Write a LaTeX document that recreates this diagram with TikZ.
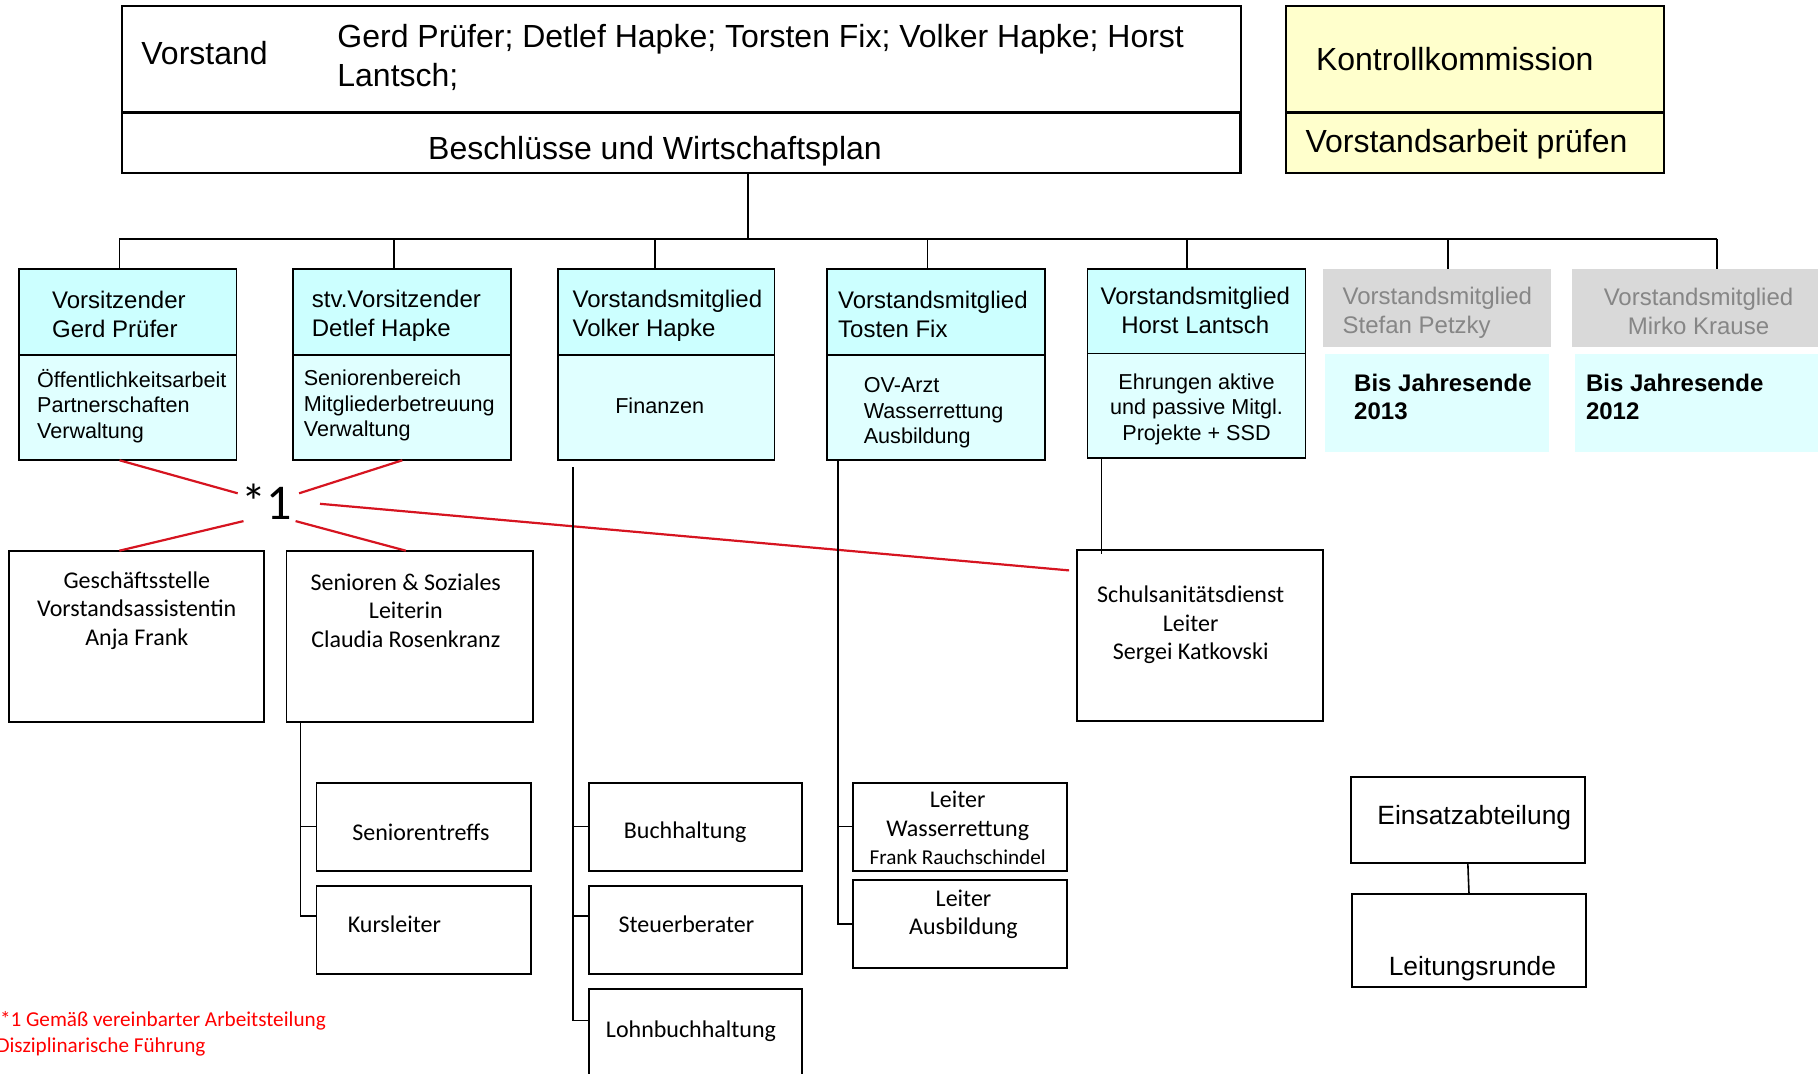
\documentclass[tikz,border=0pt]{standalone}
\usepackage{fontspec}
\setmainfont{Liberation Sans}
\newfontfamily\calibri{Carlito}
\usetikzlibrary{fit,calc}
\newcommand\grossA{\fontsize{16pt}{19.2pt}\selectfont}
\newcommand\kopfA{\fontsize{12pt}{14.5pt}\selectfont}
\newcommand\feldA{\fontsize{10.8pt}{12.75pt}\selectfont}
\newcommand\fettA{\fontsize{12pt}{13.9pt}\selectfont\bfseries}
\newcommand\einsA{\fontsize{13.2pt}{15pt}\selectfont}
\newcommand\calA{\calibri\fontsize{12pt}{14.2pt}\selectfont}
\newcommand\calklein{\calibri\fontsize{10.6pt}{12.4pt}\selectfont}
\tikzset{
  kasten/.style={draw, line width=0.9pt, inner sep=0, outer sep=0},
  kopfbox/.style={kasten, fill=kopfcol},
  feldbox/.style={kasten, fill=feldcol},
  graubox/.style={inner sep=0, outer sep=0, fill=graucol},
  hellbox/.style={inner sep=0, outer sep=0, fill=feldcol},
  txt/.style={inner sep=0, outer sep=0, align=left, anchor=west, yshift=-1.2pt},
  ztxt/.style={inner sep=0, outer sep=0, align=center, yshift=-1.2pt},
  linie/.style={line width=0.8pt},
  rotlinie/.style={line width=1.1pt, rotcol},
}
\begin{document}
\begin{tikzpicture}[x=0.5pt,y=-0.5pt]
\definecolor{kopfcol}{RGB}{204,255,255}
\definecolor{feldcol}{RGB}{224,255,255}
\definecolor{gelbcol}{RGB}{255,255,204}
\definecolor{graucol}{RGB}{217,217,217}
\definecolor{grautext}{RGB}{134,134,134}
\definecolor{rotcol}{RGB}{214,20,32}
\useasboundingbox (0,0) rectangle (1818,1074);
% Vorstand und Kontrollkommission
\node[kasten, line width=1pt, fit={(121.7,5.8) (1240.6,112.5)}] (vst) {};
\node[kasten, line width=1.2pt, fit={(121.7,112.5) (1240.6,172.8)}] (vstb) {};
\node[kasten, line width=1pt, fill=gelbcol, fit={(1285.8,5.8) (1663.7,112.5)}] (kk) {};
\node[kasten, line width=1.2pt, fill=gelbcol, fit={(1285.8,112.5) (1663.7,172.8)}] (kkb) {};
\node[txt, font=\grossA] (t-vst) at (141.4,51) {Vorstand};
\node[txt, font=\grossA] (t-namen) at (337.4,55) {Gerd Prüfer; Detlef Hapke; Torsten Fix; Volker Hapke; Horst\\Lantsch;};
\node[ztxt, font=\grossA] (t-besch) at (655,148.4) {Beschlüsse und Wirtschaftsplan};
\node[txt, font=\grossA] (t-kk) at (1316,56.8) {Kontrollkommission};
\node[txt, font=\grossA] (t-kkb) at (1305.5,141.4) {Vorstandsarbeit prüfen};
% Ressorts
\foreach \n/\l/\r in {vors/18.6/236.5, stv/293.3/511.3, vh/557.7/774.5, tf/826.7/1044.6} {
  \node[kopfbox, fit={(\l,269) (\r,354.8)}] (\n) {};
  \node[feldbox, fit={(\l,354.8) (\r,460.3)}] (\n-b) {};
}
\node[kopfbox, fit={(1087.5,269) (1305.5,353.6)}] (hl) {};
\node[feldbox, fit={(1087.5,353.6) (1305.5,458)}] (hl-b) {};
\node[graubox, fit={(1322.9,269) (1551.3,346.7)}] (sp) {};
\node[hellbox, fit={(1325.2,353.6) (1549,452.2)}] (sp-b) {};
\node[graubox, fit={(1572.1,269) (1818,346.7)}] (mk) {};
\node[hellbox, fit={(1574.5,353.6) (1818,452.2)}] (mk-b) {};
\node[txt, font=\kopfA] (t-vors) at (52.2,312.5) {Vorsitzender\\Gerd Prüfer};
\node[txt, font=\kopfA] (t-stv) at (311.9,313.5) {stv.Vorsitzender\\Detlef Hapke};
\node[txt, font=\kopfA] (t-vh) at (572.7,313.5) {Vorstandsmitglied\\Volker Hapke};
\node[txt, font=\kopfA] (t-tf) at (838.2,312.5) {Vorstandsmitglied\\Tosten Fix};
\node[ztxt, font=\kopfA] (t-hl) at (1195.3,307.8) {Vorstandsmitglied\\Horst Lantsch};
\node[txt, font=\kopfA, grautext] (t-sp) at (1342.6,310) {Vorstandsmitglied\\Stefan Petzky};
\node[ztxt, font=\kopfA, grautext] (t-mk) at (1698.5,309) {Vorstandsmitglied\\Mirko Krause};
\node[txt, font=\feldA] (t-vors-b) at (37.1,403.5) {Öffentlichkeitsarbeit\\Partnerschaften\\Verwaltung};
\node[txt, font=\feldA] (t-stv-b) at (303.8,403.5) {Seniorenbereich\\Mitgliederbetreuung\\Verwaltung};
\node[ztxt, font=\feldA] (t-vh-b) at (659.7,403.5) {Finanzen};
\node[txt, font=\feldA] (t-tf-b) at (863.8,410.5) {OV-Arzt\\Wasserrettung\\Ausbildung};
\node[ztxt, font=\feldA] (t-hl-b) at (1196.5,407) {Ehrungen aktive\\und passive Mitgl.\\Projekte + SSD};
\node[txt, font=\fettA] (t-sp-b) at (1354.2,394.2) {Bis Jahresende\\2013};
\node[txt, font=\fettA] (t-mk-b) at (1586,394.2) {Bis Jahresende\\2012};
% Verbindungen Vorstand
\coordinate (stamm) at (747.8,239);
\draw[linie] (vstb.south -| stamm) -- (stamm);
\coordinate (bus-l) at (119.4,239);
\coordinate (bus-r) at (1717.1,239);
\draw[linie] (bus-l) -- (bus-r);
\foreach \x/\b in {119.4/vors, 394.2/stv, 655.1/vh, 927.5/tf, 1187.2/hl, 1448.1/sp, 1717.1/mk} {
  \coordinate (ab-\b) at (\x,239);
  \draw[linie] (ab-\b) -- (ab-\b |- \b.north);
}
% Bereiche
\node[kasten, fit={(9.3,550.7) (264.3,722.3)}] (gst) {};
\node[kasten, fit={(286.4,550.7) (533.3,722.3)}] (sen) {};
\node[kasten, fit={(1077.1,549.6) (1322.9,721.1)}] (ssd) {};
\node[ztxt, font=\calA] (t-gst) at (136.8,608) {Geschäftsstelle\\Vorstandsassistentin\\Anja Frank};
\node[ztxt, font=\calA] (t-sen) at (405.8,608) {Senioren \& Soziales\\Leiterin\\Claudia Rosenkranz};
\node[ztxt, font=\calA] (t-ssd) at (1190.7,622.6) {Schulsanitätsdienst\\Leiter\\Sergei Katkovski};
\node[kasten, fit={(316.5,782.6) (531,870.7)}] (st) {};
\node[kasten, fit={(316.5,885.8) (531,973.9)}] (kl) {};
\node[kasten, fit={(589,782.6) (802.3,870.7)}] (bh) {};
\node[kasten, fit={(589,885.8) (802.3,973.9)}] (sb) {};
\node[kasten, fit={(589,989) (802.3,1110)}] (lb) {};
\node[kasten, fit={(853.3,782.6) (1066.6,870.7)}] (wr) {};
\node[kasten, fit={(853.3,880) (1066.6,968.1)}] (au) {};
\node[kasten, fit={(1350.7,776.8) (1584.9,862.6)}] (ea) {};
\node[kasten, fit={(1351.9,893.9) (1586.1,986.6)}] (lr) {};
\node[ztxt, font=\calA] (t-st) at (420.9,830) {Seniorentreffs};
\node[txt, font=\calA] (t-kl) at (347.8,921.7) {Kursleiter};
\node[ztxt, font=\calA] (t-bh) at (685.2,830) {Buchhaltung};
\node[ztxt, font=\calA] (t-sb) at (686.4,921.7) {Steuerberater};
\node[ztxt, font=\calA] (t-lb) at (691,1028.4) {Lohnbuchhaltung};
\node[ztxt, font=\calA] (t-wr) at (957.7,825.5) {Leiter\\Wasserrettung\\\calklein Frank Rauchschindel};
\node[ztxt, font=\calA] (t-au) at (963.5,912) {Leiter\\Ausbildung};
\node[txt, font=\einsA] (t-ea) at (1377.4,815) {Einsatzabteilung};
\node[ztxt, font=\einsA] (t-lr) at (1472.4,965.8) {Leitungsrunde};
% Arbeitsteilung *1
\node[ztxt, font=\calibri\fontsize{25pt}{25pt}\selectfont] (stern) at (267,499) {*1};
\draw[rotlinie] ([xshift=-4pt]vors-b.south) -- ($(stern)+(-29.3,-8.1)$);
\draw[rotlinie] (stv-b.south) -- ($(stern)+(32.1,-8.1)$);
\draw[rotlinie] ($(stern)+(-23.5,19.7)$) -- ([xshift=-8.7pt]gst.north);
\draw[rotlinie] ($(stern)+(28.6,19.7)$) -- ([xshift=-2pt]sen.north);
\draw[rotlinie] ($(stern)+(53,2.4)$) -- ($(ssd.north west)+(-8,20.8)$);
% Unterstellungen
\coordinate (sen-l) at ($(sen.south west)+(13.9,0)$);
\draw[linie] (sen-l) |- (st.west);
\draw[linie] (sen-l) |- ([yshift=7pt]kl.west);
\coordinate (vh-l) at ($(vh-b.south west)+(15,7)$);
\draw[linie] (vh-l) |- (bh.west);
\draw[linie] (vh-l) |- ([yshift=7pt]sb.west);
\draw[linie] (vh-l) |- ($(lb.north west)+(0,31.3)$);
\coordinate (tf-l) at ($(tf-b.south west)+(11.5,0)$);
\draw[linie] (tf-l) |- (wr.west);
\draw[linie] (tf-l) |- (au.west);
\coordinate (hl-l) at ($(hl-b.south west)+(13.9,0)$);
\draw[linie] (hl-l) -- ([yshift=-2.3pt]hl-l |- ssd.north);
\draw[linie] (ea.south) -- (lr.north);
% Fussnote
\node[txt, font=\calibri\fontsize{10.6pt}{12pt}\selectfont, red] (fn1) at (0,1018) {*1 Gemäß vereinbarter Arbeitsteilung};
\node[txt, font=\calibri\fontsize{10.6pt}{12pt}\selectfont, red] (fn2) at (-3.5,1044.6) {Disziplinarische Führung};
\end{tikzpicture}
\end{document}
